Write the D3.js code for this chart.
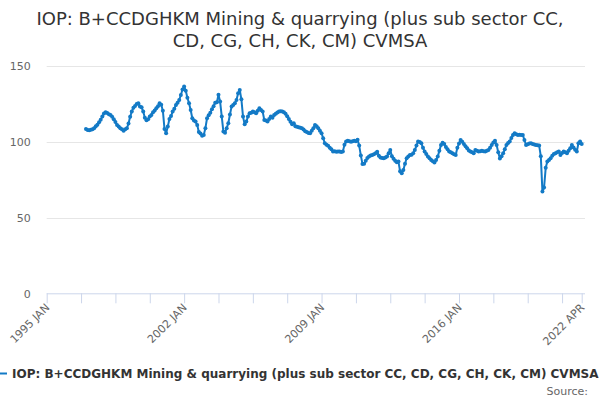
<!DOCTYPE html>
<html>
<head>
<meta charset="utf-8">
<script src="https://cdn.jsdelivr.net/npm/d3@7/dist/d3.min.js"></script>
<style>
  html, body { margin: 0; padding: 0; background: #fff; }
  svg { display: block; font-family: "DejaVu Sans", sans-serif; }
</style>
</head>
<body>
<svg id="chart" width="600" height="400"></svg>
<script>
// ---- data ----
const titleLines = ["IOP: B+CCDGHKM Mining & quarrying (plus sub sector CC,", "CD, CG, CH, CK, CM) CVMSA"];
const seriesName = "IOP: B+CCDGHKM Mining & quarrying (plus sub sector CC, CD, CG, CH, CK, CM) CVMSA";
const monthNames = ["JAN","FEB","MAR","APR","MAY","JUN","JUL","AUG","SEP","OCT","NOV","DEC"];
const firstYear = 1995, lastYear = 2022, lastMonth = 3; // axis: 1995 JAN .. 2022 APR
const seriesStart = "1997 JAN";
const tickLabels = ["1995 JAN", "2002 JAN", "2009 JAN", "2016 JAN", "2022 APR"];
const yTicks = [0, 50, 100, 150];

const v1997 = [108.4,107.8,107.6,107.9,108.3,109.0,110.2,111.3,112.8,114.6,116.6,118.6];
const v1998 = [119.4,119.0,118.2,117.7,116.5,114.9,113.0,111.0,110.0,108.9,108.3,107.2];
const v1999 = [108.3,108.9,112.0,116.5,119.9,122.5,123.6,125.0,125.4,123.2,122.8,119.9];
const v2000 = [115.8,114.2,114.8,116.6,117.6,119.5,120.6,122.1,123.5,125.4,124.5,120.5];
const v2001 = [108.5,105.6,110.0,115.0,117.0,119.9,121.8,124.3,125.8,127.6,130.9,134.5];
const v2002 = [136.4,133.7,129.0,125.4,121.0,115.5,114.0,113.3,111.0,106.5,105.5,104.0];
const v2003 = [104.5,109.0,115.5,117.5,119.2,121.5,123.5,125.8,126.0,131.0,126.5,116.6];
const v2004 = [106.7,106.0,109.0,112.2,118.0,123.2,124.3,125.4,127.6,132.0,134.2,128.0];
const v2005 = [116.6,111.5,113.3,116.6,118.8,119.2,119.9,119.5,118.8,120.5,122.1,121.0];
const v2006 = [119.9,114.4,114.0,113.3,115.0,116.6,115.8,117.7,118.5,119.3,119.9,120.2];
const v2007 = [120.0,119.4,118.5,116.8,115.0,113.2,111.5,112.3,110.2,109.9,109.6,109.3];
const v2008 = [108.9,108.1,107.0,106.4,105.8,105.6,107.2,109.0,111.0,110.2,108.9,107.2];
const v2009 = [105.6,102.3,99.0,98.0,97.3,96.0,95.1,93.5,93.7,93.4,93.5,93.6];
const v2010 = [93.3,93.5,98.0,100.2,100.7,100.3,100.0,100.4,100.7,100.4,101.3,97.5];
const v2011 = [91.0,85.4,85.5,87.5,89.3,90.2,91.0,91.3,91.8,92.4,93.4,90.8];
const v2012 = [89.6,89.3,89.1,89.6,90.2,92.4,94.6,90.5,88.8,87.4,86.5,86.9];
const v2013 = [80.5,79.2,81.4,85.5,89.1,90.2,91.3,91.5,92.4,94.5,97.5,100.1];
const v2014 = [99.8,99.0,96.0,93.5,92.0,90.2,89.2,88.0,87.2,86.3,88.0,90.2];
const v2015 = [94.0,97.9,99.4,98.5,96.5,95.0,93.5,93.0,92.4,91.8,91.3,96.0];
const v2016 = [98.8,101.2,100.0,98.5,97.0,95.7,94.2,93.5,93.0,92.4,94.6,94.0];
const v2017 = [93.5,93.8,94.0,93.8,93.5,94.0,94.6,96.0,97.9,99.5,100.7,97.9];
const v2018 = [93.0,89.0,90.5,92.4,95.0,97.9,99.2,100.1,102.5,104.5,105.6,105.0];
const v2019 = [104.5,104.6,104.4,104.5,101.2,97.9,98.4,98.8,99.0,98.6,98.2,97.9];
const v2020 = [97.7,97.5,90.5,67.1,69.8,82.8,86.9,88.0,89.1,90.8,92.0,92.4];
const v2021 = [93.0,93.5,91.3,92.6,93.5,93.0,92.4,94.0,95.7,97.9,96.2,94.8];
const v2022 = [93.5,99.0,100.1,98.6];

const values = [].concat(v1997,v1998,v1999,v2000,v2001,v2002,v2003,v2004,v2005,v2006,
  v2007,v2008,v2009,v2010,v2011,v2012,v2013,v2014,v2015,v2016,v2017,v2018,v2019,v2020,v2021,v2022);

// month categories for the axis
const categories = [];
for (let y = firstYear; y <= lastYear; y++) {
  for (let m = 0; m < 12; m++) {
    if (y === lastYear && m > lastMonth) break;
    categories.push(y + " " + monthNames[m]);
  }
}
const startIdx = categories.indexOf(seriesStart);
const data = values.map((v, i) => ({ cat: categories[startIdx + i], v }));

// ---- layout ----
const svg = d3.select("#chart");
const plot = { left: 46.7, right: 581.7, top: 66, bottom: 293.3, gridRight: 585 };
const lineColor = "#137ac6";

const x = d3.scalePoint().domain(categories).range([plot.left, plot.right]);
const y = d3.scaleLinear().domain([0, 150]).range([plot.bottom, plot.top]);

// title
svg.append("text")
  .attr("x", 300).attr("text-anchor", "middle")
  .attr("fill", "#333333").style("font-size", "18px")
  .selectAll("tspan").data(titleLines).join("tspan")
  .attr("x", 300).attr("y", (d, i) => 25 + i * 22).text(d => d);

// gridlines
svg.append("g").selectAll("line").data(yTicks.filter(t => t > 0)).join("line")
  .attr("x1", plot.left).attr("x2", plot.gridRight)
  .attr("y1", d => Math.round(y(d)) + 0.5).attr("y2", d => Math.round(y(d)) + 0.5)
  .attr("stroke", "#e6e6e6").attr("stroke-width", 1);

// y axis labels
const yAxis = d3.axisLeft(y).tickValues(yTicks).tickSize(0).tickPadding(0);
const gy = svg.append("g").attr("transform", `translate(${plot.left - 16},0)`).call(yAxis);
gy.select(".domain").remove();
gy.selectAll("text").attr("fill", "#666666").style("font-size", "11px")
  .style("font-family", "DejaVu Sans, sans-serif").attr("dy", "0.35em");

// x axis
const tickCats = categories.filter((c, i) => i % 21 === 0 || i === categories.length - 1);
const xAxis = d3.axisBottom(x).tickValues(tickCats).tickSize(10)
  .tickFormat(d => tickLabels.includes(d) ? d : "");
const gx = svg.append("g").attr("transform", `translate(0,${plot.bottom})`).call(xAxis);
gx.select(".domain").attr("stroke", "#ccd6eb").attr("d", `M${plot.left},0.5H${plot.gridRight}`);
gx.selectAll(".tick line").attr("stroke", "#ccd6eb");
gx.selectAll(".tick text")
  .attr("fill", "#666666").style("font-size", "11px")
  .style("font-family", "DejaVu Sans, sans-serif")
  .attr("text-anchor", "end")
  .attr("y", 0).attr("dy", 0)
  .attr("transform", "translate(3,15) rotate(-45)");

// line
const line = d3.line().x(d => x(d.cat)).y(d => y(d.v));
svg.append("path").datum(data)
  .attr("d", line).attr("fill", "none")
  .attr("stroke", lineColor).attr("stroke-width", 2)
  .attr("stroke-linejoin", "round").attr("stroke-linecap", "round");

// markers
svg.append("g").selectAll("circle").data(data).join("circle")
  .attr("cx", d => x(d.cat)).attr("cy", d => y(d.v)).attr("r", 2)
  .attr("fill", lineColor);

// legend
const lg = svg.append("g");
lg.append("line").attr("x1", -2).attr("x2", 7).attr("y1", 373.5).attr("y2", 373.5)
  .attr("stroke", lineColor).attr("stroke-width", 2);
lg.append("text").attr("x", 12).attr("y", 378)
  .attr("fill", "#333333").style("font-size", "12px").style("font-weight", "bold")
  .text(seriesName);

// source
svg.append("text").attr("x", 588).attr("y", 395).attr("text-anchor", "end")
  .attr("fill", "#666666").style("font-size", "11px").text("Source:");
</script>
</body>
</html>
